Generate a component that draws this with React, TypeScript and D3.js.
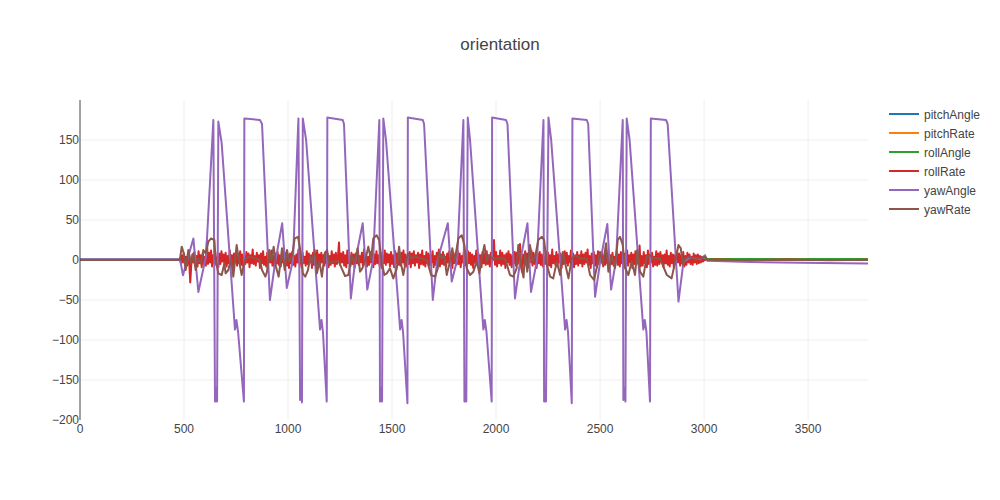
import React from "react";
import * as d3 from "d3";

const seriesNames = ["pitchAngle", "pitchRate", "rollAngle", "rollRate", "yawAngle", "yawRate"];
const seriesColors = ["#1f77b4", "#ff7f0e", "#2ca02c", "#d62728", "#9467bd", "#8c564b"];
const xTicks = [0, 500, 1000, 1500, 2000, 2500, 3000, 3500];
const yTicks = [-200, -150, -100, -50, 0, 50, 100, 150];

const pitchAngle: [number, number][] = [[0, 0.3], [3788, 0.3]];
const pitchRate: [number, number][] = [[0, 0], [3788, 0]];
const rollAngle: [number, number][] = [[0, 0.5], [2990, 0.5], [3010, 1.2], [3788, 1.2]];

const rollRateStart = 480;
const rollRateStep = 5;
const rollRateValues = [
  2,-4,6,-3,8,-5,4,-7,9,-2,-28,-6,
  7,-3,10,-6,5,-8,11,-4,6,-9,8,-5,
  4,-7,24,-5,9,-3,12,-8,6,-4,10,-6,
  3,-9,8,-5,11,-2,7,-6,9,-8,5,-4,
  12,-5,6,-10,8,-3,9,-7,5,-4,11,-6,
  7,-8,4,-5,10,-3,8,-9,6,-4,13,-5,
  5,-7,9,-2,6,-10,8,-4,11,-6,4,-8,
  9,-5,7,-3,12,-7,5,-9,8,-4,10,-6,
  6,-8,4,-3,11,-5,9,-7,6,-10,8,-4,
  10,-6,5,-8,7,-3,13,-5,6,-9,9,-4,
  4,-7,11,-5,8,-3,6,-10,9,-6,5,-4,
  12,-8,7,-5,9,-3,6,-7,10,-4,8,-9,
  5,-6,11,-4,7,-8,9,-5,4,22,-6,8,
  -3,10,-7,6,-9,12,-4,5,-8,9,-5,7,
  -10,8,-4,11,-6,5,-3,9,-7,13,-5,6,
  -8,4,-6,10,-3,8,-9,7,-5,11,-4,6,
  -7,9,-10,5,-4,12,-6,8,-3,7,-8,10,
  -5,6,-9,11,-4,8,-6,5,-7,9,-3,12,
  -6,7,-8,4,-5,10,-9,8,-4,11,-7,6,
  -3,9,-10,7,-5,12,-6,5,-8,10,-4,8,
  -7,6,-3,11,-9,5,-6,9,-4,13,-8,7,
  -5,10,-6,4,-8,8,-3,11,-7,6,-10,9,
  -4,7,-6,12,-5,8,-9,5,-3,10,-7,6,
  -8,11,-4,9,-6,7,-10,5,-3,12,-5,8,
  -7,6,-9,10,-4,8,-6,11,-5,4,-8,9,
  -3,7,25,-6,10,-8,5,-4,12,-7,9,-5,
  6,-10,8,-3,11,-6,7,-9,5,-4,10,-7,
  9,-5,6,20,-8,-15,7,-4,11,-6,8,-9,
  5,-3,12,-7,9,-5,6,-10,8,-4,10,-6,
  7,-8,4,-5,11,-3,9,-7,6,-9,13,-4,
  5,-6,10,-8,7,-3,8,-10,6,-5,11,-4,
  9,-7,5,-3,12,-6,8,-9,4,-5,10,-7,
  6,-4,11,-8,7,-5,9,-3,13,-6,5,-10,
  8,-4,10,-7,6,-9,11,-5,7,-3,9,-8,
  5,-6,12,-4,8,-10,6,-5,9,-7,4,-3,
  11,-6,7,-8,10,-4,5,-9,8,-5,12,-7,
  6,-3,9,-10,7,-5,11,-4,8,-6,18,-8,
  5,-7,10,-4,6,-9,12,-5,7,-3,9,-8,
  4,-6,11,-7,8,-5,10,-3,6,-9,7,-4,
  12,-6,5,-8,9,-4,7,-10,6,-5,11,-3,
  8,-7,6,-4,10,-8,5,-6,9,-3,7,-5,
  4,-6,8,-3,6,-5,7,-4,5,-3,4,-2,
  0,
];
const rollRateTail: [number, number][] = [[3060, 0.6], [3200, -0.3], [3400, 0.5], [3600, -0.2], [3788, 0.3]];

const yawAngle: [number, number][] = [
  [0,1],[481,1],[495,-19],[545,27],[569,-40],[606,5],[641,175],[649,-177],[654,-160],[659,-177],[665,173],[681,146],[745,-87],[752,-75],[760,-90],[788,-177],[790,177],[865,175],[875,170],[913,-50],[937,-5],[972,46],[994,-35],[1024,0],[1050,177],[1058,-175],[1063,-160],[1067,-178],[1071,177],[1087,150],[1154,-87],[1161,-75],[1168,-90],[1186,-177],[1189,178],[1263,175],[1269,170],[1302,-48],[1322,-3],[1359,46],[1381,-37],[1409,0],[1439,175],[1442,-177],[1447,-160],[1452,-177],[1458,177],[1471,150],[1539,-87],[1546,-75],[1553,-90],[1574,-179],[1576,178],[1648,175],[1654,170],[1696,-50],[1716,-3],[1768,46],[1787,-27],[1813,0],[1843,175],[1848,-177],[1853,-160],[1857,-177],[1864,178],[1875,150],[1939,-87],[1946,-75],[1954,-90],[1979,-177],[1981,178],[2048,175],[2055,170],[2091,-48],[2115,-3],[2151,46],[2168,-40],[2197,0],[2228,175],[2231,-177],[2236,-160],[2240,-177],[2252,178],[2265,150],[2332,-87],[2339,-75],[2346,-90],[2364,-179],[2367,177],[2436,175],[2443,170],[2476,-46],[2500,-3],[2535,45],[2553,-37],[2577,0],[2609,175],[2612,-175],[2617,-160],[2622,-177],[2628,177],[2642,150],[2708,-87],[2715,-75],[2723,-90],[2740,-177],[2744,177],[2817,175],[2825,170],[2877,-52],[2901,-2],[2933,3],[2981,1],[3005,6],[3014,-1],[3221,-2.5],[3462,-3.5],[3788,-4.5],
];

const yawRate: [number, number][] = [
  [0,0],[480,0],
  [489,16.7],[497,10],[508,-12.5],[521,12.5],[534,-4.2],[545,8.3],[556,-12.5],[566,2],[582,-4.2],[593,12.5],[604,8.3],[617,22.9],[630,27],[646,25],[652,0],[665,-16.7],[681,-18.75],[694,-4.2],[700,-16.7],[713,-12.5],[726,2],[737,-20.8],[753,18.75],[764,0],[777,-18.75],[793,0],[809,4.2],[841,2],[865,0],
  [875,-12.5],[891,-20.8],[899,-14.6],[910,12.5],[920,0],[931,16.7],[942,-8.3],[955,-20.8],[963,-4.2],[971,14.6],[984,-12.5],[995,12.5],[1006,-2],[1019,4.2],[1032,27],[1048,29],[1059,12.5],[1071,-16.7],[1083,-20.8],[1096,-12.5],[1107,4.2],[1115,-4.2],[1128,12.5],[1139,-16.7],[1151,-2],[1163,-20.8],[1176,8.3],[1188,12.5],[1196,-4.2],[1212,-2],[1244,-2],
  [1274,-20],[1290,-18.75],[1306,6.25],[1319,-4.2],[1335,14.6],[1346,-14.6],[1357,-10.4],[1370,-2],[1386,16.7],[1399,0],[1410,27],[1426,31],[1438,25],[1450,-2],[1463,-18.75],[1475,-16.7],[1490,-10.4],[1506,-23],[1523,-10.4],[1534,16.7],[1543,-4.2],[1554,-18.75],[1566,-2],[1578,8.3],[1591,2],[1611,4.2],[1643,2],[1667,0],
  [1688,-18.75],[1707,-20.8],[1720,-10.4],[1726,10.4],[1739,2],[1751,6.25],[1763,-18.75],[1774,-6.25],[1790,14.6],[1800,-2],[1819,27],[1835,31],[1848,18.75],[1859,-10.4],[1875,-18.75],[1891,-14.6],[1907,-2],[1920,-16.7],[1931,2],[1944,18.75],[1955,-2],[1966,6.25],[1982,2],[2011,2],[2043,2],
  [2067,-18.75],[2083,-20.8],[2099,-10.4],[2107,18.75],[2120,-6.25],[2132,-22],[2139,8],[2150,-14.6],[2163,18.75],[2176,-2],[2188,4],[2203,25],[2220,29],[2231,25],[2244,-6],[2260,-20.8],[2275,-23],[2292,-2],[2308,-18.75],[2321,10],[2332,-4],[2348,-23],[2364,2],[2380,6],[2404,2],[2436,2],
  [2452,-18.75],[2471,-25],[2487,-6],[2500,10],[2513,-6],[2529,20.8],[2540,-14.6],[2556,6],[2572,-10],[2585,25],[2596,29],[2609,18.75],[2620,-10],[2636,-18.75],[2652,-2],[2668,-18.75],[2679,12.5],[2692,-14.6],[2708,-20.8],[2724,4],[2740,6],[2756,2],[2788,2],
  [2821,-18.75],[2844,-23],[2861,-2],[2877,18.75],[2888,14.6],[2898,-6],[2909,2],[2924,4],[2949,2],[2981,2],[3005,4],[3019,0],[3788,0],
];

const W = 1000, H = 500;
const M = { left: 80, right: 132, top: 100, bottom: 80 };
const FONT = "Arial, 'Liberation Sans', sans-serif";

export default function App() {
  const x = d3.scaleLinear().domain([0, 3788]).range([M.left, W - M.right]);
  const y = d3.scaleLinear().domain([-200, 200]).range([H - M.bottom, M.top]);
  const line = d3.line<[number, number]>().x(d => x(d[0])).y(d => y(d[1]));

  const rollRate: [number, number][] = [
    [0, 0], [475, 0],
    ...rollRateValues.map((v, i) => [rollRateStart + i * rollRateStep, v] as [number, number]),
    ...rollRateTail,
  ];
  const data = [pitchAngle, pitchRate, rollAngle, rollRate, yawAngle, yawRate];
  const fmt = (v: number) => (v < 0 ? "\u2212" + Math.abs(v) : String(v));

  return (
    <svg width={W} height={H} style={{ position: "absolute", left: 0, top: 0, background: "#fff" }} fontFamily={FONT}>
      <defs>
        <clipPath id="plot">
          <rect x={M.left} y={M.top} width={W - M.left - M.right} height={H - M.top - M.bottom} />
        </clipPath>
      </defs>
      {xTicks.filter(t => t > 0).map(t => (
        <line key={"gx" + t} x1={x(t)} x2={x(t)} y1={M.top} y2={H - M.bottom} stroke="#eee" strokeWidth={1} />
      ))}
      {yTicks.filter(t => t > -200 && t !== 0).map(t => (
        <line key={"gy" + t} x1={M.left} x2={W - M.right} y1={y(t)} y2={y(t)} stroke="#eee" strokeWidth={1} />
      ))}
      <line x1={M.left} x2={W - M.right} y1={y(0)} y2={y(0)} stroke="#444" strokeWidth={1} />
      <g clipPath="url(#plot)">
        {data.map((d, i) => (
          <path key={seriesNames[i]} d={line(d) || ""} fill="none" stroke={seriesColors[i]} strokeWidth={2} strokeLinejoin="round" />
        ))}
      </g>
      <line x1={x(0)} x2={x(0)} y1={M.top} y2={H - M.bottom} stroke="#444" strokeWidth={1} />
      {xTicks.map(t => (
        <text key={"tx" + t} x={x(t)} y={H - M.bottom + 13} textAnchor="middle" fontSize={12} fill="#444">{t}</text>
      ))}
      {yTicks.map(t => (
        <text key={"ty" + t} x={M.left - 1} y={y(t) + 4} textAnchor="end" fontSize={12} fill="#444">{fmt(t)}</text>
      ))}
      <text x={W / 2} y={50} textAnchor="middle" fontSize={17} fill="#444">orientation</text>
      {seriesNames.map((n, i) => (
        <g key={"lg" + n} transform={`translate(889, ${114 + i * 19})`}>
          <line x1={0} x2={30} y1={0} y2={0} stroke={seriesColors[i]} strokeWidth={2} />
          <text x={35} y={4.5} fontSize={12} fill="#444">{n}</text>
        </g>
      ))}
    </svg>
  );
}
